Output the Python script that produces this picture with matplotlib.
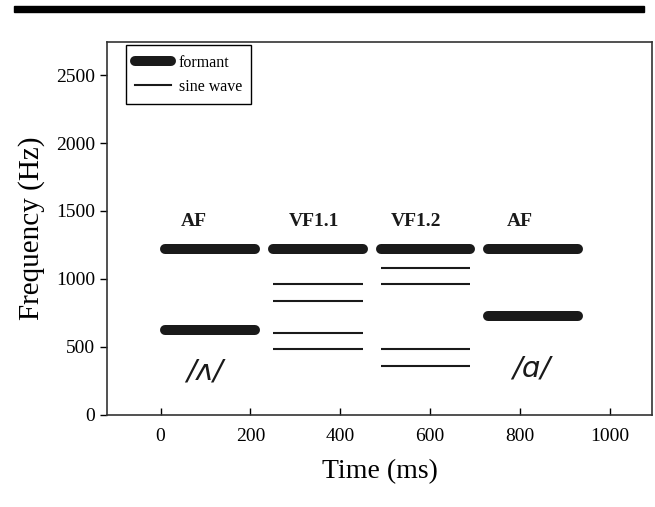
import matplotlib.pyplot as plt
from matplotlib.lines import Line2D
from matplotlib.patches import Rectangle

plt.rcParams['font.family'] = ['Liberation Serif', 'DejaVu Serif']

# formant bars: (start ms, end ms, frequency Hz)
formant_start = [10, 10, 250, 490, 730, 730]
formant_end = [210, 210, 450, 690, 930, 930]
formant_freq = [1220, 620, 1220, 1220, 1220, 725]

# sine wave lines
sine_start = [250, 250, 250, 250, 490, 490, 490, 490]
sine_end = [450, 450, 450, 450, 690, 690, 690, 690]
sine_freq = [960, 840, 600, 480, 1080, 960, 480, 360]

# stimulus labels above the bars
cond_labels = ['AF', 'VF1.1', 'VF1.2', 'AF']
cond_x = [75, 342, 569, 800]
cond_y = 1420

vowel_labels = ['/\u028c/', '/\u0251/']
vowel_x = [98, 826]
vowel_y = [320, 340]


def main():
    fig = plt.figure(figsize=(6.55, 5.07), dpi=100)
    ax = fig.add_axes([0.1629, 0.1824, 0.8330, 0.7348])

    # journal header rule
    fig.patches.append(Rectangle((14 / 655, 1 - 12 / 507), 630 / 655, 6 / 507,
                                 transform=fig.transFigure, color='black', zorder=0))

    for x0, x1, f in zip(formant_start, formant_end, formant_freq):
        ax.plot([x0, x1], [f, f], color='#1a1a1a', lw=7.2, solid_capstyle='round')
    for x0, x1, f in zip(sine_start, sine_end, sine_freq):
        ax.plot([x0, x1], [f, f], color='#1a1a1a', lw=1.5, solid_capstyle='butt')

    for lab, x in zip(cond_labels, cond_x):
        ax.text(x, cond_y, lab, ha='center', va='center', fontsize=14,
                fontweight='bold', color='#1a1a1a')
    for lab, x, y in zip(vowel_labels, vowel_x, vowel_y):
        ax.text(x, y, lab, ha='center', va='center', fontsize=21, style='italic',
                family=['DejaVu Sans'], color='#1a1a1a')

    ax.set_xlim(-120, 1095)
    ax.set_ylim(0, 2745)
    ax.set_xticks([0, 200, 400, 600, 800, 1000])
    ax.set_yticks([0, 500, 1000, 1500, 2000, 2500])
    ax.tick_params(axis='x', direction='in', length=5, width=1, labelsize=14, pad=10)
    ax.tick_params(axis='y', direction='out', length=5, width=1, labelsize=14)
    for s in ax.spines.values():
        s.set_linewidth(1.2)
        s.set_color('#333333')

    ax.set_xlabel('Time (ms)', fontsize=20, labelpad=10)
    ax.set_ylabel('Frequency (Hz)', fontsize=21, labelpad=8)

    handles = [Line2D([], [], color='#1a1a1a', lw=7.2, solid_capstyle='round'),
               Line2D([], [], color='#1a1a1a', lw=1.5)]
    leg = ax.legend(handles, ['formant', 'sine wave'], loc='upper left',
                    bbox_to_anchor=(0.035, 0.992), borderaxespad=0, fontsize=11.5,
                    handlelength=2.2, handletextpad=0.5, fancybox=False,
                    edgecolor='black', framealpha=1, borderpad=0.6,
                    labelspacing=0.5)
    leg.get_frame().set_linewidth(1)

    fig.savefig('out.png', dpi=100)


if __name__ == '__main__':
    main()
